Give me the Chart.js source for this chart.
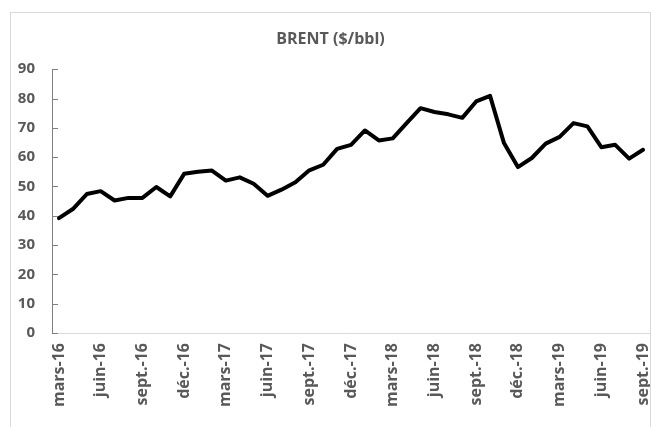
<!DOCTYPE html>
<html>
<head>
<meta charset="utf-8">
<script src="https://cdn.jsdelivr.net/npm/chart.js@4/dist/chart.umd.min.js"></script>
<style>
html,body{margin:0;padding:0;background:#fff;overflow:hidden;width:651px;height:427px;}
#frame{position:absolute;left:10px;top:12px;width:639px;height:430px;border:1px solid #d9d9d9;background:#fff;}
</style>
</head>
<body>
<div id="frame"><canvas id="brent"></canvas></div>
<script>
// mois (mars 2016 -> sept. 2019)
const months=['mars-16','avr.-16','mai-16','juin-16','juil.-16','août-16','sept.-16','oct.-16','nov.-16','déc.-16',
  'janv.-17','févr.-17','mars-17','avr.-17','mai-17','juin-17','juil.-17','août-17','sept.-17','oct.-17','nov.-17','déc.-17',
  'janv.-18','févr.-18','mars-18','avr.-18','mai-18','juin-18','juil.-18','août-18','sept.-18','oct.-18','nov.-18','déc.-18',
  'janv.-19','févr.-19','mars-19','avr.-19','mai-19','juin-19','juil.-19','août-19','sept.-19'];
// prix Brent ($/bbl)
const brent=[39.2,42.3,47.4,48.4,45.2,46.1,46.1,49.8,46.6,54.3,
  55.0,55.4,52.0,53.1,50.9,46.8,48.9,51.4,55.5,57.4,62.8,64.2,
  69.1,65.7,66.4,71.6,76.7,75.4,74.6,73.4,79.0,80.9,64.8,56.6,
  59.7,64.6,66.9,71.6,70.5,63.4,64.2,59.5,62.5];
// etiquettes affichees sur l'axe
const shownTicks=['mars-16','juin-16','sept.-16','déc.-16','mars-17','juin-17','sept.-17','déc.-17',
  'mars-18','juin-18','sept.-18','déc.-18','mars-19','juin-19','sept.-19'];
const yTicks=[0,10,20,30,40,50,60,70,80,90];

const grey='#595959';
const fontFam='"Open Sans", "Liberation Sans", sans-serif';

// petites graduations vers l'interieur sur l'axe vertical
const innerTicks={id:'innerTicks',afterDraw(c){
  const y=c.scales.y,ctx=c.ctx,left=c.chartArea.left;
  ctx.save();ctx.strokeStyle='#7f7f7f';ctx.lineWidth=1;
  y.ticks.forEach((t,i)=>{const p=Math.round(y.getPixelForTick(i))+0.5;ctx.beginPath();ctx.moveTo(left,p);ctx.lineTo(left+6,p);ctx.stroke();});
  ctx.restore();
}};

new Chart(document.getElementById('brent'),{
  type:'line',
  data:{labels:months,datasets:[{label:'BRENT',data:brent,borderColor:'#000',borderWidth:4,pointRadius:0,tension:0,borderJoinStyle:'round',borderCapStyle:'round',fill:false}]},
  options:{
    responsive:true,maintainAspectRatio:false,animation:false,
    layout:{padding:{left:0,right:0,top:0,bottom:0}},
    plugins:{
      legend:{display:false},tooltip:{enabled:false},
      title:{display:true,text:'BRENT ($/bbl)',color:grey,font:{family:fontFam,size:16,weight:'bold'},padding:{top:17,bottom:20}}
    },
    scales:{
      x:{offset:true,
        grid:{display:true,drawOnChartArea:false,drawTicks:false},
        border:{display:true,color:'#d9d9d9',width:1},
        ticks:{autoSkip:false,minRotation:90,maxRotation:90,padding:10,color:grey,font:{family:fontFam,size:16,weight:'bold'},
          callback(v){const l=this.getLabelForValue(v);return shownTicks.includes(l)?l:'';}},
        afterFit(s){s.height=110;s.paddingLeft=0;s.paddingRight=0;}
      },
      y:{min:0,max:90,
        afterBuildTicks(s){s.ticks=yTicks.map(v=>({value:v}));},
        grid:{display:true,drawOnChartArea:false,drawTicks:false},
        border:{display:true,color:'#7f7f7f',width:1},
        ticks:{padding:17,color:grey,font:{family:fontFam,size:15,weight:'bold'}},
        afterFit(s){s.width=41;s.paddingTop=0;s.paddingBottom=0;}
      }
    }
  },
  plugins:[innerTicks]
});
</script>
</body>
</html>
